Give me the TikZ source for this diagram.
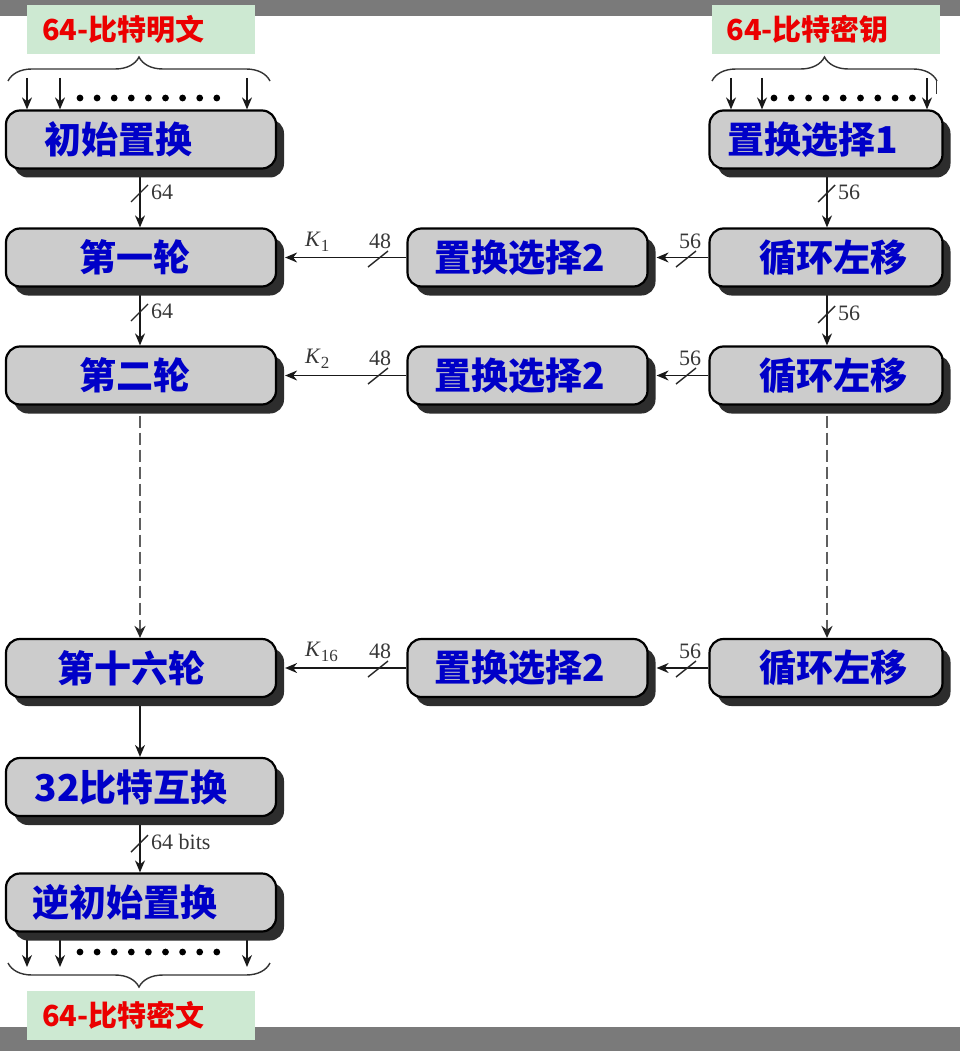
\documentclass[tikz,border=0pt]{standalone}
\usepackage{fontspec}
\newfontfamily\cjk{Noto Sans CJK SC}
\newfontfamily\tms{Liberation Serif}
\usetikzlibrary{arrows.meta,shadows,decorations.pathreplacing,backgrounds}
\definecolor{barGray}{RGB}{122,122,122}
\definecolor{boxFill}{RGB}{204,204,204}
\definecolor{shadowGray}{RGB}{45,45,45}
\definecolor{mint}{RGB}{205,233,210}
\definecolor{txtBlue}{RGB}{0,0,200}
\definecolor{txtRed}{RGB}{235,0,0}
\definecolor{lblGray}{RGB}{55,55,55}
\definecolor{dashGray}{RGB}{95,95,95}
\begin{document}
\begin{tikzpicture}[x=1pt,y=-1pt,
  stage/.style={draw=black, line width=2.2pt, fill=boxFill, rounded corners=14pt,
    minimum height=58pt, inner sep=0pt,
    drop shadow={shadow xshift=8pt, shadow yshift=-9pt, fill=shadowGray, opacity=1}},
  lstage/.style={stage, minimum width=270pt},
  mstage/.style={stage, minimum width=240pt},
  rstage/.style={stage, minimum width=233pt},
  boxtxt/.style={font=\cjk\bfseries\fontsize{37}{37}\selectfont, text=txtBlue, inner sep=0pt},
  tag/.style={fill=mint, minimum width=228pt, minimum height=49pt, text width=198pt, align=left,
    inner xsep=15pt, inner ysep=0pt, font=\cjk\bfseries\fontsize{29}{29}\selectfont, text=txtRed},
  arr/.style={draw=black!90, line width=1.5pt, -{Stealth[length=12pt,width=10pt]}},
  darr/.style={draw=dashGray, line width=2.8pt, dash pattern=on 12pt off 5pt,
    -{Stealth[length=12pt,width=11pt,color=black!85]}},
  slashln/.style={draw=black!85, line width=1.4pt},
  num/.style={font=\tms\fontsize{22}{22}\selectfont, text=lblGray, inner sep=0pt},
  bracestyle/.style={draw=black!80, line width=1.4pt, decorate},
  dotst/.style={fill=black}
]
\useasboundingbox (0,0) rectangle (960,1051);

% ---------- stage boxes ----------
\node[lstage, label={[boxtxt, xshift=-23pt]center:初始置换}] (b0) at (141,139.5) {};
\node[lstage, label={[boxtxt, xshift=-6pt]center:第一轮}] (b1) at (141,257.5) {};
\node[lstage, label={[boxtxt, xshift=-6pt]center:第二轮}] (b2) at (141,375.5) {};
\node[lstage, label={[boxtxt, xshift=-10pt]center:第十六轮}] (b16) at (141,668) {};
\node[lstage, label={[boxtxt, xshift=-10pt]center:32比特互换}] (bsw) at (141,787) {};
\node[lstage, label={[boxtxt, xshift=-16pt]center:逆初始置换}] (bfin) at (141,902.5) {};

\node[mstage, label={[boxtxt, xshift=-8pt]center:置换选择2}] (m1) at (527.5,257.5) {};
\node[mstage, label={[boxtxt, xshift=-8pt]center:置换选择2}] (m2) at (527.5,375.5) {};
\node[mstage, label={[boxtxt, xshift=-8pt]center:置换选择2}] (m16) at (527.5,668) {};

\node[rstage, label={[boxtxt, xshift=-13pt]center:置换选择1}] (r0) at (826,139.5) {};
\node[rstage, label={[boxtxt, xshift=7pt]center:循环左移}] (r1) at (826,257.5) {};
\node[rstage, label={[boxtxt, xshift=7pt]center:循环左移}] (r2) at (826,375.5) {};
\node[rstage, label={[boxtxt, xshift=7pt]center:循环左移}] (r16) at (826,668) {};

% ---------- tags ----------
\node[tag] (tp) at (141,29.5) {64-比特明文};
\node[tag] (tk) at (825.5,29.5) {64-比特密钥};
\node[tag] (tc) at (141,1015) {64-比特密文};

% ---------- coordinates ----------
\coordinate (ia1) at (27,78);  \coordinate (ia2) at (60,78);  \coordinate (ia3) at (247,78);
\coordinate (ka1) at (731,78); \coordinate (ka2) at (762,78); \coordinate (ka3) at (927,78);
\coordinate (oa1) at (27,967); \coordinate (oa2) at (60,967); \coordinate (oa3) at (247,967);
\coordinate (lx) at (140,0);   \coordinate (rx) at (827,0);

\begin{scope}[on background layer]
  \fill[white] (0,0) rectangle (960,1051);
  \fill[barGray] (0,0) rectangle (960,16);
  \fill[barGray] (0,1027) rectangle (960,1051);

  % input / output arrows
  \foreach \c in {ia1,ia2,ia3} \draw[arr] (\c) -- (\c |- b0.north);
  \foreach \c in {ka1,ka2,ka3} \draw[arr] (\c) -- (\c |- r0.north);
  \foreach \c in {oa1,oa2,oa3} \draw[arr] (\c |- bfin.south) -- (\c);

  % left column
  \draw[arr] (lx |- b0.south) -- (lx |- b1.north);
  \draw[arr] (lx |- b1.south) -- (lx |- b2.north);
  \draw[darr] (lx |- b2.south) ++(0,10) -- (lx |- b16.north);
  \draw[arr] (lx |- b16.south) -- (lx |- bsw.north);
  \draw[arr] (lx |- bsw.south) -- (lx |- bfin.north);

  % right column
  \draw[arr] (rx |- r0.south) -- (rx |- r1.north);
  \draw[arr] (rx |- r1.south) -- (rx |- r2.north);
  \draw[darr] (rx |- r2.south) ++(0,10) -- (rx |- r16.north);

  % horizontal
  \draw[arr] (m1.west) -- ([xshift=8pt]b1.east);
  \draw[arr] (m2.west) -- ([xshift=8pt]b2.east);
  \draw[arr] (m16.west) -- ([xshift=8pt]b16.east);
  \draw[arr] (r1.west) -- ([xshift=8pt]m1.east);
  \draw[arr] (r2.west) -- ([xshift=8pt]m2.east);
  \draw[arr] (r16.west) -- ([xshift=8pt]m16.east);
\end{scope}

% ---------- slashes and labels ----------
\foreach \p/\t in {{(140,193)}/64, {(140,312)}/64, {(827,193)}/56, {(827,314)}/56, {(140,843)}/64 bits} {
  \draw[slashln] \p ++(-9,9) -- ++(17,-17);
  \path \p ++(11,-1) node[num, anchor=west] {\t};
}
\foreach \y/\k in {258/1, 375/2, 668/16} {
  \draw[slashln] (368,\y+9) -- (388,\y-7);
  \draw[slashln] (676,\y+9) -- (696,\y-7);
  \node[num] at (380,\y-17) {48};
  \node[num] at (690,\y-17) {56};
  \node[num, anchor=west] at (305,\y-16) {\itshape K\kern1pt\raisebox{-5pt}{\fontsize{17}{17}\selectfont\upshape\k}};
}

% ---------- braces ----------
\draw[bracestyle, decoration={brace, amplitude=24pt}] (8,81) -- (270,81);
\draw[bracestyle, decoration={brace, amplitude=24pt}] (712,81) -- (937,81);
\draw[draw=black!80, line width=1.4pt] (936.3,79) -- (936.3,94);
\draw[bracestyle, decoration={brace, amplitude=24pt}] (270,963) -- (8,963);

% ---------- dots ----------
\foreach \i in {0,...,8} {
  \fill[dotst] (80+\i*17.1,98) circle (3.4pt);
  \fill[dotst] (774+\i*17.3,98) circle (3.4pt);
  \fill[dotst] (80+\i*17.1,952) circle (3.4pt);
}
\end{tikzpicture}
\end{document}
